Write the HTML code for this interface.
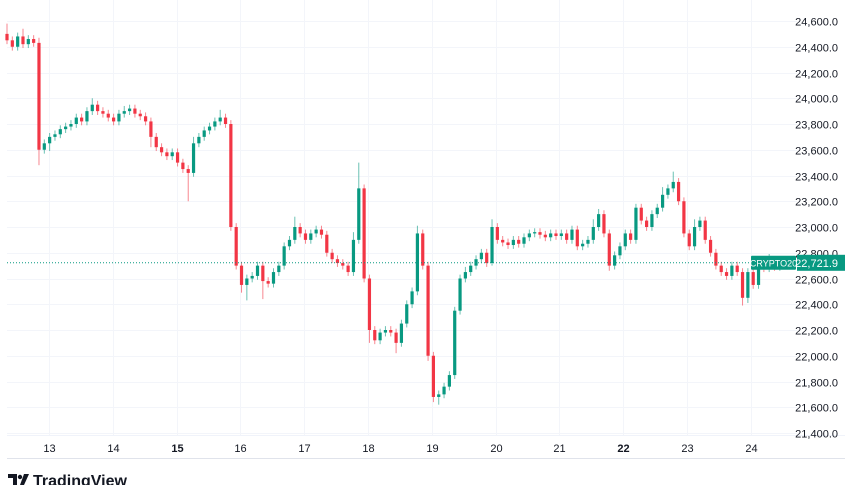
<!DOCTYPE html>
<html><head><meta charset="utf-8">
<style>
html,body{margin:0;padding:0;background:#fff;}
body{width:852px;height:485px;overflow:hidden;font-family:"Liberation Sans",sans-serif;}
svg{display:block}
</style></head>
<body>
<svg id="chart" width="852" height="485" xmlns="http://www.w3.org/2000/svg">
  <g id="grid"></g>
  <g id="candles"></g>
  <g id="yaxis"></g>
  <g id="xaxis"></g>
  <line x1="7" x2="845" y1="458.5" y2="458.5" stroke="#e0e3eb"/>
  <g>
    <path d="M8 474h9v11h-4v-7h-5z" fill="#131722"/>
    <circle cx="20" cy="477" r="2.2" fill="#131722"/>
    <path d="M24 474h5l-5 11h-4z" fill="#131722"/>
    <text x="33" y="486" font-size="16" font-weight="bold" fill="#131722">TradingView</text>
  </g>
</svg>
<script>
const closes = [24450,24400,24480,24420,24460,24430,
23600,23650,23700,23720,23760,23780,
23800,23850,23820,23900,23950,23900,
23880,23850,23820,23880,23900,23920,
23880,23860,23820,23700,23620,23580,
23550,23580,23500,23450,23420,23650,
23700,23750,23780,23820,23850,23800,
23000,22700,22550,22600,22620,22700,
22580,22560,22650,22700,22850,22900,
23000,22950,22900,22950,22980,22940,
22800,22750,22720,22700,22650,22900,
23300,22600,22200,22120,22180,22200,
22180,22100,22250,22400,22500,22950,
22700,22000,21680,21700,21760,21850,
22350,22600,22650,22700,22750,22800,
22720,23000,22900,22880,22860,22900,
22870,22920,22950,22960,22940,22920,
22950,22930,22950,22900,22980,22850,
22870,22900,23000,23100,22950,22700,
22780,22850,22950,22900,23150,23050,
23000,23100,23150,23250,23300,23350,
23200,22950,22850,23000,23050,22900,
22800,22700,22650,22620,22700,22650,
22450,22650,22550,22700,22680,22700,
22690,22710,22700,22721.9];
const firstOpen = 24500;
const wickUpOverrides = {0:80,3:60,6:40,16:50,22:40,35:50,40:60,54:80,65:60,66:200,77:60,86:40,91:60,110:60,111:40,123:60,125:80,129:60,141:40,143:90};
const wickDownOverrides = {6:120,8:60,27:80,34:220,44:60,45:120,48:140,68:100,73:80,79:40,80:40,81:60,91:20,113:40,127:30,138:60,139:40};
const priceTicks = [24600,24400,24200,24000,23800,23600,23400,23200,23000,22800,22600,22400,22200,22000,21800,21600,21400];
const dayLabels = ["13","14","15","16","17","18","19","20","21","22","23","24"];
const dayBold = [false,false,true,false,false,false,false,false,false,true,false,false];
const lastPrice = 22721.9;
const symbol = "CRYPTO20";

const NS="http://www.w3.org/2000/svg";
const plotL=7, plotR=797, plotB=435;
function yScale(p){return 21+(24600-p)*0.12875;}
function xCandle(i){return 7+i*5.33;}
function xDay(d){return 49+d*63.8;}
function mk(tag,attrs,parent){const e=document.createElementNS(NS,tag);for(const k in attrs)e.setAttribute(k,attrs[k]);parent.appendChild(e);return e;}
function fmt(v){return v.toLocaleString('en-US',{minimumFractionDigits:1,maximumFractionDigits:1});}

const grid=document.getElementById('grid');
const yaxis=document.getElementById('yaxis');
const xaxis=document.getElementById('xaxis');
const cg=document.getElementById('candles');

priceTicks.forEach(p=>{
  const y=Math.round(yScale(p))+0.5;
  const l=mk('line',{x1:plotL,x2:plotR,y1:y,y2:y,stroke:'#f3f5fa'},grid);
  
  
  const t=mk('text',{x:838,y:y+4,'font-size':'11','text-anchor':'end',fill:'#131722'},yaxis);
  t.textContent=fmt(p);
  
  
});
dayLabels.forEach((d,i)=>{
  const x=Math.round(xDay(i))+0.5;
  const l=mk('line',{x1:x,x2:x,y1:0,y2:plotB,stroke:'#f3f5fa'},grid);
  
  
  const t=mk('text',{x:x,y:452,'font-size':'11','text-anchor':'middle',fill:'#131722','font-weight':dayBold[i]?'bold':'normal'},xaxis);
  t.textContent=d;
  
  
});
const sep=mk('line',{x1:plotL,x2:845,y1:plotB+0.5,y2:plotB+0.5,stroke:'#f0f3fa'},grid);



let prev=firstOpen;
closes.forEach((c,i)=>{
  const o=prev; prev=c;
  const up=c>=o;
  const col=up?'#089981':'#f23645';
  const hi=Math.max(o,c)+(wickUpOverrides[i]!==undefined?wickUpOverrides[i]:30);
  const lo=Math.min(o,c)-(wickDownOverrides[i]!==undefined?wickDownOverrides[i]:30);
  const x=xCandle(i);
  const w=mk('line',{x1:x,x2:x,y1:yScale(hi),y2:yScale(lo),stroke:col,'stroke-width':1,opacity:0.6},cg);
  
  
  const yt=yScale(Math.max(o,c)), yb=yScale(Math.min(o,c));
  const r=mk('rect',{x:x-1.6,y:yt,width:3.2,height:Math.max(1,yb-yt),fill:col},cg);
  
  
});

const yl=yScale(lastPrice);
const dl=mk('line',{x1:plotL,x2:plotR,y1:yl,y2:yl,stroke:'#089981','stroke-dasharray':'1 2','stroke-width':1},cg);


const sb=mk('rect',{x:751,y:yl-7,width:45,height:14,fill:'#089981',rx:1},yaxis);


const st=mk('text',{x:773.5,y:yl+3.5,'font-size':'9','text-anchor':'middle',fill:'#fff'},yaxis);
st.textContent=symbol;


const pb=mk('rect',{x:797,y:yl-8,width:48,height:16,fill:'#089981'},yaxis);


const pt=mk('text',{x:838,y:yl+4,'font-size':'11','text-anchor':'end',fill:'#fff'},yaxis);
pt.textContent=fmt(lastPrice);


</script>
</body></html>
